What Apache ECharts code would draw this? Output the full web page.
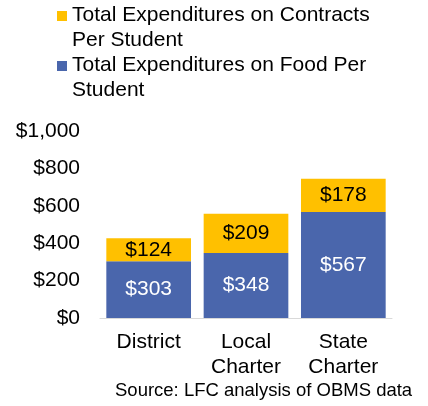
<!DOCTYPE html>
<html>
<head>
<meta charset="utf-8">
<script src="https://cdn.jsdelivr.net/npm/echarts@6/dist/echarts.min.js"></script>
<style>html,body{margin:0;padding:0;background:#fff}#c{width:428px;height:406px}</style>
</head>
<body>
<div id="c"></div>
<script>
var categories = ['District', 'Local\nCharter', 'State\nCharter'];
var foodValues = [303, 348, 567];
var contractValues = [124, 209, 178];
var seriesNames = ['Total Expenditures on Food Per\nStudent', 'Total Expenditures on Contracts\nPer Student'];
var sourceNote = 'Source: LFC analysis of OBMS data';

var FONT = '"Liberation Sans", Arial, sans-serif';
var chart = echarts.init(document.getElementById('c'), null, {renderer: 'canvas'});
var iconPath = 'path://M0,0L10,0M0,8L10,8L10,18L0,18ZM0,50L10,50';
chart.setOption({
  animation: false,
  textStyle: {fontFamily: FONT},
  legend: {
    orient: 'vertical',
    left: 57,
    top: 3,
    padding: 0,
    itemGap: 0,
    itemWidth: 10,
    itemHeight: 50,
    data: [
      {name: seriesNames[1], icon: iconPath},
      {name: seriesNames[0], icon: iconPath}
    ],
    textStyle: {fontFamily: FONT, fontSize: 21, lineHeight: 25, color: '#000'}
  },
  grid: {left: 100, right: 36, top: 131, bottom: 88, containLabel: false},
  xAxis: {
    type: 'category',
    data: categories,
    axisTick: {show: false},
    axisLine: {lineStyle: {color: '#D9D9D9', width: 1}},
    axisLabel: {fontFamily: FONT, fontSize: 21, lineHeight: 25, color: '#000', margin: 12}
  },
  yAxis: {
    type: 'value',
    min: 0, max: 1000, interval: 200,
    splitLine: {show: false},
    axisLine: {show: false},
    axisTick: {show: false},
    axisLabel: {
      fontFamily: FONT, fontSize: 21, color: '#000', margin: 20,
      formatter: function (v) { return '$' + v.toLocaleString('en-US'); }
    }
  },
  series: [
    {
      name: seriesNames[0], type: 'bar', stack: 'a', data: foodValues,
      barCategoryGap: '13%',
      itemStyle: {color: '#4A66AC'},
      label: {show: true, position: 'inside', fontFamily: FONT, fontSize: 21, color: '#fff',
        formatter: function (p) { return '$' + p.value; }}
    },
    {
      name: seriesNames[1], type: 'bar', stack: 'a', data: contractValues,
      barCategoryGap: '13%',
      itemStyle: {color: '#FFC000'},
      label: {show: true, position: 'inside', fontFamily: FONT, fontSize: 21, color: '#000',
        formatter: function (p) { return '$' + p.value; }}
    }
  ],
  graphic: [{
    type: 'text', left: 115, top: 381,
    style: {text: sourceNote, font: '18.5px ' + FONT, fill: '#000'}
  }]
});
</script>
</body>
</html>
